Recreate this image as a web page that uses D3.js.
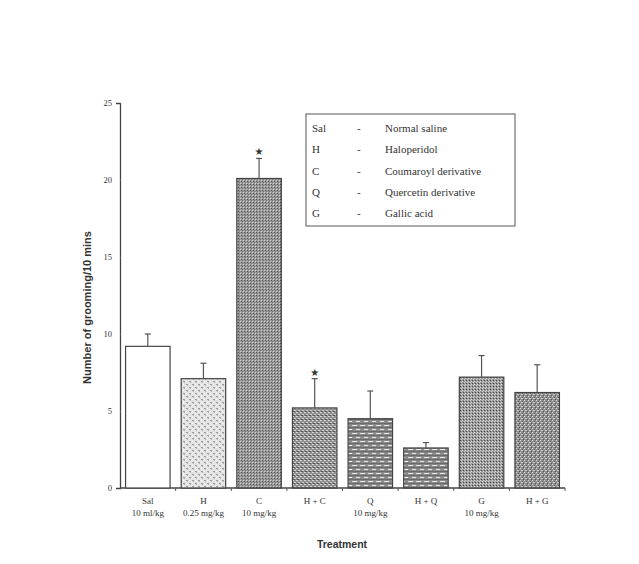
<!DOCTYPE html>
<html>
<head>
<meta charset="utf-8">
<script src="https://cdn.jsdelivr.net/npm/d3@7"></script>
<style>
  body { margin: 0; background: #fff; }
  svg text { fill: #333; }
</style>
</head>
<body>
<div id="chart"></div>
<script>
var categories = ["Sal", "H", "C", "H + C", "Q", "H + Q", "G", "H + G"];
var doses = ["10 ml/kg", "0.25 mg/kg", "10 mg/kg", "", "10 mg/kg", "", "10 mg/kg", ""];
var means = [9.2, 7.1, 20.1, 5.2, 4.5, 2.6, 7.2, 6.2];
var errors = [0.8, 1.0, 1.3, 1.9, 1.8, 0.35, 1.4, 1.8];
var significant = [false, false, true, true, false, false, false, false];
var fills = ["white", "pH", "pC", "pHC", "pQ", "pQ", "pG", "pHG"];
var yTicks = [0, 5, 10, 15, 20, 25];
var legendAbbr = ["Sal", "H", "C", "Q", "G"];
var legendName = ["Normal saline", "Haloperidol", "Coumaroyl derivative", "Quercetin derivative", "Gallic acid"];

var W = 639, H = 564;
var margin = { left: 120, right: 74, top: 103, bottom: 76 };

var svg = d3.select("#chart").append("svg")
  .attr("width", W).attr("height", H);

// fill patterns
var defs = svg.append("defs");
function pat(id, size, bg, cells) {
  var p = defs.append("pattern").attr("id", id)
    .attr("width", size).attr("height", size)
    .attr("patternUnits", "userSpaceOnUse");
  p.append("rect").attr("width", size).attr("height", size).attr("fill", bg);
  cells.forEach(function(c) {
    p.append("rect").attr("x", c[0]).attr("y", c[1])
      .attr("width", c[2]).attr("height", c[3]).attr("fill", c[4]);
  });
}
pat("pH", 6, "#e4e4e4", [[0, 0, 2, 1, "#9a9a9a"], [3, 3, 2, 1, "#9a9a9a"], [1, 1, 1, 1, "#b5b5b5"], [4, 4, 1, 1, "#b5b5b5"], [3, 0, 1, 1, "#fff"], [0, 3, 1, 1, "#fff"]]);
pat("pC", 3, "#9a9a9a", [[0, 0, 1, 1, "#d0d0d0"], [1, 1, 1, 1, "#555"], [2, 2, 1, 1, "#777"]]);
pat("pHC", 4, "#8e8e8e", [[0, 0, 2, 1, "#d4d4d4"], [2, 2, 2, 1, "#cfcfcf"], [1, 3, 2, 1, "#555"]]);
pat("pQ", 8, "#8a8a8a", [[0, 1, 5, 1, "#e8e8e8"], [4, 5, 5, 1, "#e8e8e8"], [0, 3, 8, 1, "#6a6a6a"], [0, 7, 8, 1, "#6a6a6a"]]);
pat("pG", 3, "#999", [[0, 0, 1, 1, "#d8d8d8"], [2, 1, 1, 1, "#cfcfcf"], [1, 2, 1, 1, "#4a4a4a"]]);
pat("pHG", 4, "#8f8f8f", [[0, 0, 1, 1, "#d5d5d5"], [2, 1, 1, 1, "#555"], [1, 2, 2, 1, "#cfcfcf"], [3, 3, 1, 1, "#505050"]]);

var x = d3.scaleBand()
  .domain(categories)
  .range([margin.left, W - margin.right])
  .paddingInner(0.2)
  .paddingOuter(0.1);

var y = d3.scaleLinear()
  .domain([0, 25])
  .range([H - margin.bottom, margin.top]);

var idx = d3.range(categories.length);

// y axis
var yAxis = svg.append("g")
  .attr("transform", "translate(" + margin.left + ",0)")
  .call(d3.axisLeft(y).tickValues(yTicks).tickSize(4).tickPadding(4));
yAxis.select(".domain").attr("stroke", "#444").attr("stroke-width", 1.3);
yAxis.selectAll(".tick line").attr("stroke", "#666").attr("x2", 1);
yAxis.selectAll(".tick text")
  .attr("font-family", "Liberation Serif, serif")
  .attr("font-size", 8.5).attr("fill", "#555");

// x axis: ticks on category boundaries
var xAxis = svg.append("g")
  .attr("transform", "translate(0," + y(0) + ")");
xAxis.append("line")
  .attr("x1", margin.left).attr("x2", W - margin.right)
  .attr("stroke", "#444").attr("stroke-width", 1.3);
xAxis.selectAll(".bt")
  .data(idx)
  .enter().append("line")
  .attr("x1", function(i) { return x(categories[i]) + x.bandwidth() + x.step() * x.paddingInner() / 2; })
  .attr("x2", function(i) { return x(categories[i]) + x.bandwidth() + x.step() * x.paddingInner() / 2; })
  .attr("y1", 0).attr("y2", 3)
  .attr("stroke", "#555");

// bars
svg.append("g").selectAll("rect")
  .data(idx)
  .enter().append("rect")
  .attr("x", function(i) { return x(categories[i]); })
  .attr("width", x.bandwidth())
  .attr("y", function(i) { return y(means[i]); })
  .attr("height", function(i) { return y(0) - y(means[i]); })
  .attr("fill", function(i) { return fills[i] === "white" ? "#fff" : "url(#" + fills[i] + ")"; })
  .attr("stroke", "#444").attr("stroke-width", 1.2);

// error bars (upper only)
var err = svg.append("g").selectAll("g")
  .data(idx)
  .enter().append("g");
err.append("line")
  .attr("x1", function(i) { return x(categories[i]) + x.bandwidth() / 2; })
  .attr("x2", function(i) { return x(categories[i]) + x.bandwidth() / 2; })
  .attr("y1", function(i) { return y(means[i]); })
  .attr("y2", function(i) { return y(means[i] + errors[i]); })
  .attr("stroke", "#555").attr("stroke-width", 1.2);
err.append("line")
  .attr("x1", function(i) { return x(categories[i]) + x.bandwidth() / 2 - 3; })
  .attr("x2", function(i) { return x(categories[i]) + x.bandwidth() / 2 + 3; })
  .attr("y1", function(i) { return y(means[i] + errors[i]); })
  .attr("y2", function(i) { return y(means[i] + errors[i]); })
  .attr("stroke", "#555").attr("stroke-width", 1.2);

// significance stars
svg.append("g").selectAll("text")
  .data(idx.filter(function(i) { return significant[i]; }))
  .enter().append("text")
  .attr("x", function(i) { return x(categories[i]) + x.bandwidth() / 2; })
  .attr("y", function(i) { return y(means[i] + errors[i]) - 3; })
  .attr("text-anchor", "middle")
  .attr("font-family", "DejaVu Sans, sans-serif")
  .attr("font-size", 10)
  .text("\u2605");

// category labels
var lab = svg.append("g").selectAll("text")
  .data(idx)
  .enter().append("text")
  .attr("text-anchor", "middle")
  .attr("font-family", "Liberation Serif, serif")
  .attr("font-size", 9)
  .attr("fill", "#444");
lab.append("tspan")
  .attr("x", function(i) { return x(categories[i]) + x.bandwidth() / 2; })
  .attr("y", y(0) + 16)
  .text(function(i) { return categories[i]; });
lab.append("tspan")
  .attr("x", function(i) { return x(categories[i]) + x.bandwidth() / 2; })
  .attr("y", y(0) + 28)
  .text(function(i) { return doses[i]; });

// axis titles
svg.append("text")
  .attr("transform", "translate(91," + ((y(0) + y(25)) / 2 + 12) + ") rotate(-90)")
  .attr("text-anchor", "middle")
  .attr("font-family", "Liberation Sans, Arial, sans-serif")
  .attr("font-weight", "bold").attr("font-size", 11)
  .text("Number of grooming/10 mins");

svg.append("text")
  .attr("x", 342).attr("y", 548)
  .attr("text-anchor", "middle")
  .attr("font-family", "Liberation Sans, Arial, sans-serif")
  .attr("font-weight", "bold").attr("font-size", 10.5)
  .text("Treatment");

// legend
var lg = svg.append("g").attr("transform", "translate(306,114)");
lg.append("rect")
  .attr("width", 209).attr("height", 112)
  .attr("fill", "#fff").attr("stroke", "#555").attr("stroke-width", 1);
var rows = lg.selectAll("g.row")
  .data(d3.range(legendAbbr.length))
  .enter().append("g")
  .attr("transform", function(i) { return "translate(0," + (18 + i * 21.3) + ")"; })
  .attr("font-family", "Liberation Serif, serif")
  .attr("font-size", 11)
  .attr("fill", "#333");
rows.append("text").attr("x", 6).text(function(i) { return legendAbbr[i]; });
rows.append("text").attr("x", 51).text("-");
rows.append("text").attr("x", 79).text(function(i) { return legendName[i]; });
</script>
</body>
</html>
